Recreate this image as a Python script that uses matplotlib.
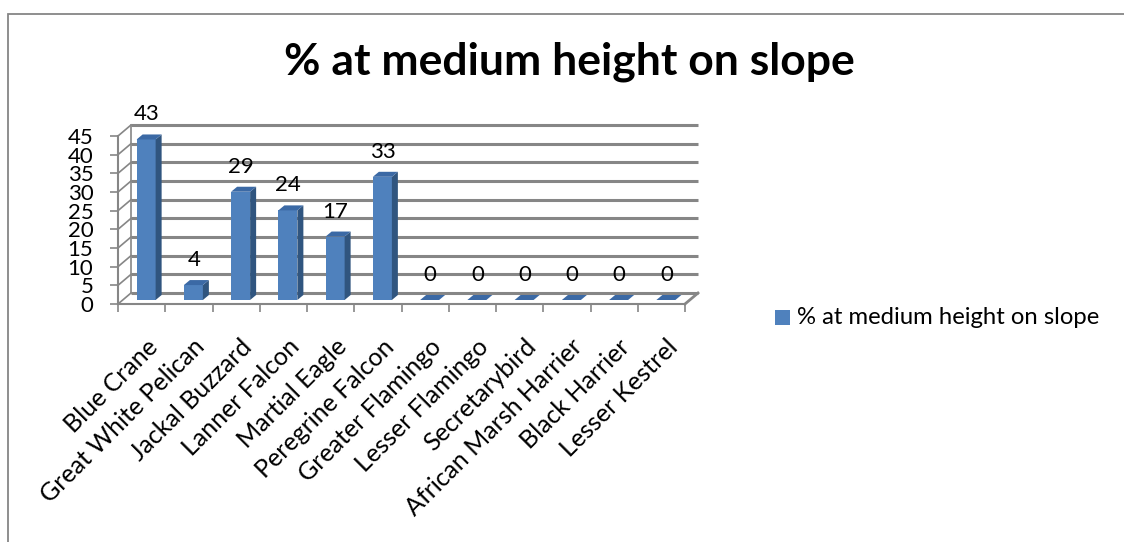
import matplotlib
matplotlib.use('Agg')
import matplotlib.pyplot as plt
from matplotlib.patches import Polygon, Rectangle
import numpy as np

# data
species = ['Blue Crane', 'Great White Pelican', 'Jackal Buzzard', 'Lanner Falcon',
           'Martial Eagle', 'Peregrine Falcon', 'Greater Flamingo', 'Lesser Flamingo',
           'Secretarybird', 'African Marsh Harrier', 'Black Harrier', 'Lesser Kestrel']
pct_medium = [43, 4, 29, 24, 17, 33, 0, 0, 0, 0, 0, 0]
series_name = '% at medium height on slope'
chart_title = '% at medium height on slope'
y_ticks = list(range(0, 50, 5))

plt.rcParams['font.family'] = ['Lato', 'DejaVu Sans']

W, H = 1124, 542
fig = plt.figure(figsize=(W / 100, H / 100), dpi=100)

# front plane of the fake 3d box, in pixels
x0, x1 = 118, 685
y0, y1 = 304, 136
n = len(species)
ymax = 45
ax = fig.add_axes([x0 / W, 1 - y0 / H, (x1 - x0) / W, (y0 - y1) / H])
ax.set_xlim(0, n)
ax.set_ylim(0, ymax)
sx = (x1 - x0) / n
sy = (y0 - y1) / ymax


def px(dx, dy=0):
    # pixel offset -> data units (dy is upwards)
    return dx / sx, dy / sy


gray = '#868686'
front_c = '#4F81BD'
side_c = '#30557F'
top_c = '#3B69A5'

# back wall + left wall
bdx, bdy = px(13, 11)
for v in y_ticks:
    ax.plot([bdx, n + bdx], [v + bdy, v + bdy], color=gray, lw=2.2,
            clip_on=False, solid_capstyle='butt', zorder=1)
    ax.plot([0, bdx], [v, v + bdy], color=gray, lw=1.2, clip_on=False, zorder=1)
ax.plot([bdx, bdx], [bdy, ymax + bdy], color=gray, lw=1.2, clip_on=False, zorder=1)

# floor
ax.plot([n, n + bdx], [0, bdy], color=gray, lw=2, clip_on=False, zorder=1)

# axes lines and ticks
for s in ['top', 'right']:
    ax.spines[s].set_visible(False)
for s in ['left', 'bottom']:
    ax.spines[s].set_color(gray)
    ax.spines[s].set_linewidth(1.5)
ax.set_facecolor('none')
ax.set_yticks(y_ticks)
ax.set_xticks(np.arange(n + 1))
ax.set_xticklabels([])
ax.tick_params(axis='both', direction='out', length=5.8, width=1.2, color=gray)
ax.tick_params(axis='y', pad=12, labelsize=16, labelcolor='black')

# bars
bw = 19 / sx
bl_off = -5 / sx
base = 4 / sy
ddx, ddy = px(6, 5)
lab_dx = 5 / sx
lab_dy = 25 / sy
for i, v in enumerate(pct_medium):
    xl = i + 0.5 + bl_off
    xr = xl + bw
    yt = base + v
    if v > 0:
        ax.add_patch(Rectangle((xl, base), bw, v, facecolor=front_c,
                               edgecolor='none', clip_on=False, zorder=3))
        ax.add_patch(Polygon([(xr, base), (xr + ddx, base + ddy), (xr + ddx, yt + ddy), (xr, yt)],
                             facecolor=side_c, edgecolor='none', clip_on=False, zorder=3))
    ax.add_patch(Polygon([(xl, yt), (xr, yt), (xr + ddx, yt + ddy), (xl + ddx, yt + ddy)],
                         facecolor=top_c, edgecolor='none', clip_on=False, zorder=3))
    ax.text(i + 0.5 + lab_dx, yt + lab_dy, str(v), ha='center', va='center',
            fontsize=16, zorder=4)

# category labels
cdx, cdy = px(4, -31)
for i, name in enumerate(species):
    ax.text(i + 0.5 + cdx, cdy, name, rotation=45, rotation_mode='anchor',
            ha='right', va='top', fontsize=18, clip_on=False)

# title
fig.text(569 / W, 1 - 62 / H, chart_title, ha='center', va='center',
         fontsize=32, fontweight='bold')

# legend
fig.add_artist(Rectangle((775 / W, 1 - 325 / H), 15 / W, 15 / H,
                         transform=fig.transFigure, facecolor=front_c, edgecolor='none'))
fig.text(797 / W, 1 - 318 / H, series_name, ha='left', va='center', fontsize=17.2)

# chart area border
fig.add_artist(Rectangle((8 / W, -10 / H), 1130 / W, (H + 3 - 7) / H,
                         transform=fig.transFigure, fill=False, edgecolor=gray, lw=1.3))

fig.savefig('out.png', dpi=100)
